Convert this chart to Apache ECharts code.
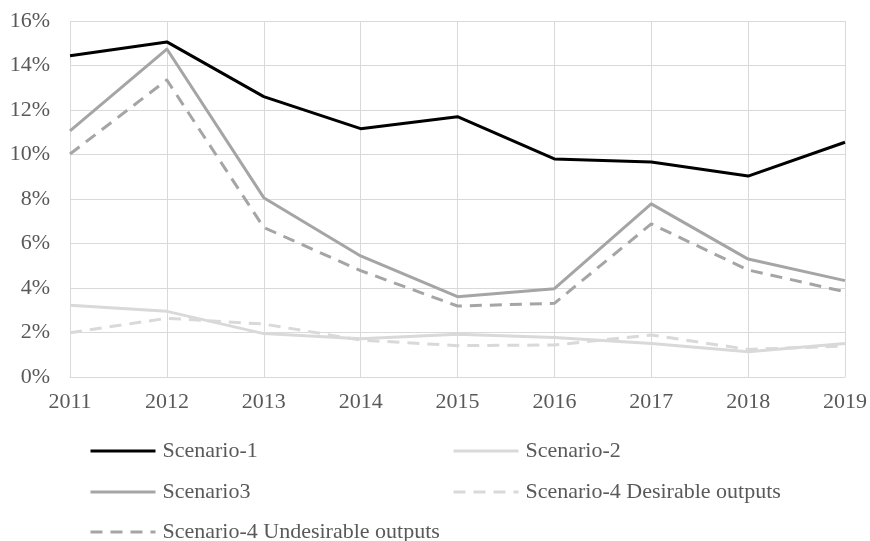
<!DOCTYPE html>
<html><head><meta charset="utf-8">
<script src="https://cdn.jsdelivr.net/npm/echarts@6/dist/echarts.min.js"></script>
<style>html,body{margin:0;padding:0;background:#fff}#c{width:870px;height:541px}</style>
</head><body><div id="c"></div>
<script>
var years = ['2011','2012','2013','2014','2015','2016','2017','2018','2019'];
var scenario1 = [14.44, 15.06, 12.60, 11.16, 11.70, 9.80, 9.66, 9.03, 10.55];
var scenario2 = [3.22, 2.95, 1.95, 1.72, 1.92, 1.78, 1.51, 1.14, 1.51];
var scenario3 = [11.06, 14.74, 8.06, 5.44, 3.61, 3.97, 7.78, 5.30, 4.33];
var scen4Desirable = [1.99, 2.64, 2.38, 1.66, 1.41, 1.44, 1.89, 1.24, 1.39];
var scen4Undesirable = [10.02, 13.35, 6.72, 4.78, 3.19, 3.31, 6.88, 4.81, 3.83];
var yTicks = [0, 2, 4, 6, 8, 10, 12, 14, 16];

var names = ['Scenario-1','Scenario-2','Scenario3','Scenario-4 Desirable outputs','Scenario-4 Undesirable outputs'];
var datas = [scenario1, scenario2, scenario3, scen4Desirable, scen4Undesirable];
var colors = ['#000000','#d9d9d9','#a5a5a5','#d9d9d9','#a5a5a5'];
var dashed = [false,false,false,true,true];
var font = '"Liberation Serif","Times New Roman",serif';

var series = names.map(function(n,i){
  return {name:n, type:'line', data:datas[i], symbol:'none', showSymbol:false,
    z: 10 - i, animation:false,
    lineStyle:{color:colors[i], width:3, type: dashed[i] ? [12,8] : 'solid', cap:'butt', join:'round'},
    itemStyle:{color:colors[i]}};
});
var legendPos = [[89,440],[452,440],[89,481],[452,481],[89,521]];
var legends = names.map(function(n,i){
  return {data:[n], left:legendPos[i][0], top:legendPos[i][1], itemWidth:65, itemHeight:22, itemGap:0,
    padding:0, selectedMode:false,
    itemStyle:{opacity:0},
    lineStyle:{width:3},
    textStyle:{fontFamily:font, fontSize:22, lineHeight:22, color:'#595959', padding:[0,0,0,2]}};
});

var chart = echarts.init(document.getElementById('c'));
chart.setOption({
  animation:false,
  grid:{left:70, right:24, top:21, bottom:164, containLabel:false},
  legend: legends,
  xAxis:{type:'category', data:years, boundaryGap:false,
    axisLine:{show:true, lineStyle:{color:'#d9d9d9', width:1}},
    axisTick:{show:false},
    splitLine:{show:true, lineStyle:{color:'#d9d9d9', width:1}},
    axisLabel:{fontFamily:font, fontSize:22, color:'#595959', margin:14}},
  yAxis:{type:'value', min:yTicks[0], max:yTicks[yTicks.length-1], interval:2,
    axisLine:{show:false}, axisTick:{show:false},
    splitLine:{show:true, lineStyle:{color:'#d9d9d9', width:1}},
    axisLabel:{fontFamily:font, fontSize:22, color:'#595959', margin:20, formatter:'{value}%'}},
  series: series
});
</script></body></html>
